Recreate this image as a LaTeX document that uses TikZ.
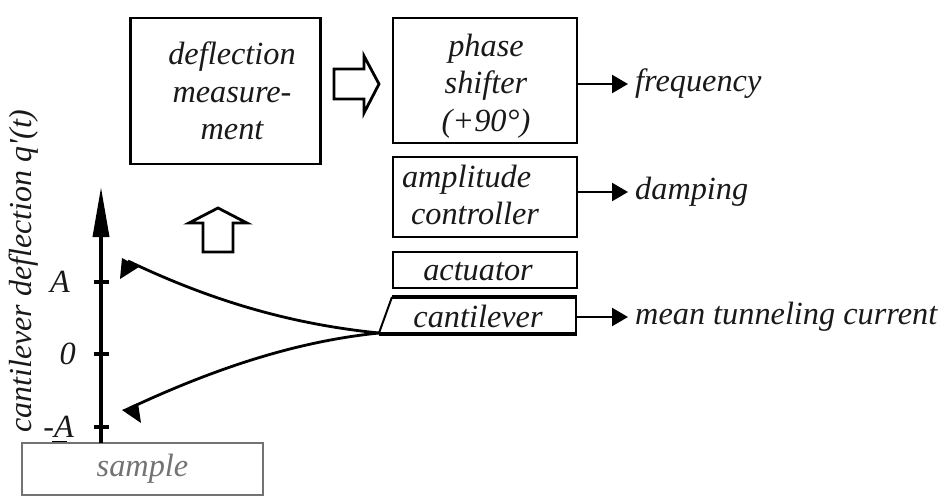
\documentclass[tikz,border=0pt]{standalone}
\usepackage{fontspec}
\setmainfont{Liberation Serif}
\newfontfamily\plainserif{Liberation Serif}
\usetikzlibrary{arrows.meta}
\tikzset{
 txt/.style={font=\itshape\fontsize{32.3}{37.5}\selectfont,text=black!90},
 blk/.style={draw=black,line width=2.4pt,inner sep=0pt},
 txtblk/.style={inner sep=0pt,align=center,txt},
 lbl/.style={inner sep=0pt,anchor=west,txt},
 outarrow/.style={-{Triangle[length=16pt,width=18pt]},line width=2.4pt,shorten >=7pt},
 hollowarrow/.style={draw=black,line width=2.8pt,fill=white,line join=miter},
 axisline/.style={line width=3.6pt}
}
\begin{document}
\begin{tikzpicture}[x=1pt,y=-1pt]
\useasboundingbox (0,0) rectangle (940,501);
\fill[white] (0,0) rectangle (940,501);
\node[blk,minimum width=190pt,minimum height=146pt] (dm) at (225.5,91) {};
\node[txtblk] (dmt) at (232,91) {deflection\\measure-\\ment};
\node[blk,minimum width=184pt,minimum height=125pt] (ps) at (485,80.5) {};
\node[txtblk] (pst) at (486,86) {phase\\shifter\\(+90°)};
\node[blk,minimum width=184pt,minimum height=80pt] (ac) at (485,197) {};
\node[txtblk,align=left] (act1) at (470.5,195) {amplitude\\\hspace{9pt}controller};
\node[blk,minimum width=184pt,minimum height=36pt] (act) at (485,270) {};
\node[txtblk] (actt) at (478,272) {actuator};
\node[inner sep=0pt,txt] (cl) at (478,316) {cantilever};
\draw[line width=3.4pt] (392,297) -- (577,297);
\draw[line width=2.4pt] (576,297) -- (576,333);
\draw[line width=4pt] (379,334) -- (577,334);
\draw[line width=2pt] (379,333) -- (392,297);
\draw[hollowarrow] (334,69) -- (364,69) -- (364,56) -- (379,84) -- (364,113) -- (364,99) -- (334,99) -- cycle;
\draw[hollowarrow] (203,252) -- (203,223) -- (189,223) -- (218,208) -- (247,223) -- (233,223) -- (233,252) -- cycle;
\node[lbl] (f) at (635,84) {frequency};
\node[lbl] (d) at (635,192) {damping};
\node[lbl] (m) at (635,317) {mean tunneling current};
\draw[outarrow] (577,84) -- (f.west);
\draw[outarrow] (577,192) -- (d.west);
\draw[outarrow] (577,317) -- (m.west);
\draw[line width=1.5pt] (52,442) -- (67,442);
\node[draw=black!55,line width=2.8pt,minimum width=241pt,minimum height=52pt,inner sep=0pt,txt,text=black!55] (s) at (142.5,469) {sample};
\coordinate (axb) at (101,443);
\coordinate (axt) at (101,187);
\draw[-{Triangle[length=50pt,width=16pt]},axisline] (axb) -- (axt);
\foreach \y/\t/\n/\w in {282/A/ta/70,354/0/tb/76,427/-A/tc/74}{
 \draw[axisline] (94,\y) -- (109,\y);
 \node[inner sep=0pt,anchor=east,txt] (\n) at (\w,\y) {\t};
}
\node[inner sep=0pt,rotate=90,txt,font=\itshape\fontsize{32}{37}\selectfont] (yl) at (24,271) {cantilever deflection {\plainserif\itshape q'(t)}};
\coordinate (tip) at (379,333);
\draw[line width=2.8pt] (tip) .. controls (300,325) and (220,305) .. (128,261);
\draw[line width=2.8pt] (tip) .. controls (300,341) and (220,366) .. (130,408);
\fill[black] (122,258) -- (139,267) -- (120,279) -- cycle;
\fill[black] (122,410) -- (138,403) -- (141,423) -- cycle;
\end{tikzpicture}
\end{document}
